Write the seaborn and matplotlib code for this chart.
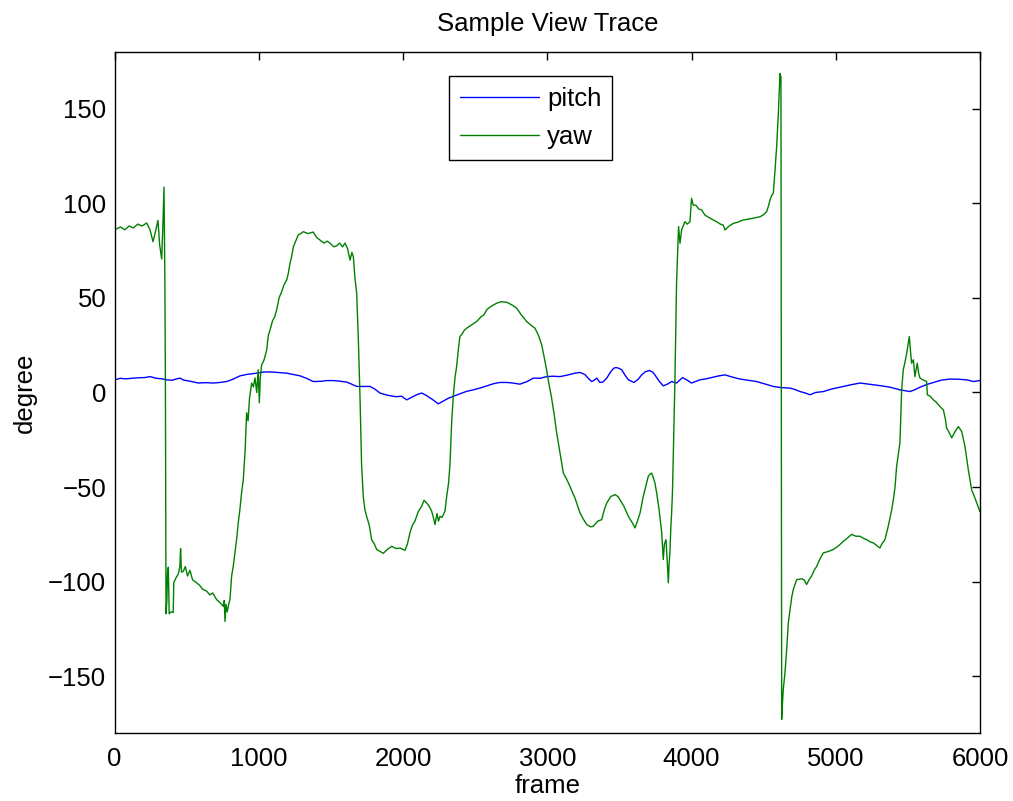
import pandas as pd
import seaborn as sns
import matplotlib.pyplot as plt

# yaw trace (frame, degree)
yaw_frame = [0, 40, 70, 100, 130, 160, 190, 222, 245, 266, 280, 300, 312, 326, 334, 342, 348, 352,
             356, 362, 366, 372, 378, 390, 406, 410, 425, 441, 452, 457, 463, 476, 490, 505, 522,
             540, 568, 590, 610, 638, 660, 680, 707, 730, 753, 760, 765, 772, 780, 788, 800, 811,
             822, 834, 845, 857, 868, 880, 892, 905, 915, 925, 935, 950, 962, 973, 985, 995, 1003,
             1010, 1019, 1035, 1054, 1065, 1077, 1095, 1110, 1123, 1140, 1158, 1175, 1193, 1204,
             1215, 1227, 1239, 1255, 1273, 1290, 1308, 1340, 1377, 1400, 1423, 1450, 1475, 1493,
             1520, 1539, 1560, 1580, 1597, 1615, 1632, 1645, 1655, 1666, 1678, 1689, 1701, 1712,
             1724, 1735, 1747, 1765, 1782, 1800, 1817, 1840, 1863, 1890, 1921, 1950, 1978, 2000,
             2013, 2030, 2048, 2065, 2082, 2105, 2129, 2145, 2163, 2180, 2198, 2210, 2221, 2235,
             2245, 2256, 2270, 2290, 2302, 2315, 2325, 2337, 2348, 2360, 2371, 2385, 2394, 2410,
             2425, 2441, 2460, 2480, 2510, 2540, 2560, 2579, 2600, 2620, 2649, 2680, 2718, 2750,
             2787, 2820, 2857, 2880, 2914, 2940, 2961, 2980, 2995, 3010, 3030, 3050, 3065, 3090,
             3111, 3135, 3157, 3175, 3192, 3210, 3227, 3250, 3273, 3300, 3319, 3350, 3377, 3395,
             3412, 3440, 3469, 3490, 3504, 3530, 3562, 3590, 3608, 3625, 3643, 3665, 3689, 3700,
             3715, 3723, 3735, 3746, 3758, 3775, 3793, 3804, 3812, 3823, 3832, 3839, 3845, 3850,
             3856, 3862, 3868, 3873, 3879, 3885, 3890, 3896, 3904, 3910, 3920, 3931, 3942, 3954,
             3970, 3989, 4000, 4012, 4030, 4050, 4070, 4093, 4120, 4151, 4180, 4200, 4220, 4232,
             4260, 4290, 4320, 4350, 4382, 4420, 4450, 4475, 4500, 4521, 4535, 4544, 4555, 4567,
             4579, 4590, 4602, 4613, 4620, 4625, 4630, 4636, 4648, 4659, 4671, 4683, 4695, 4706,
             4729, 4764, 4780, 4798, 4815, 4833, 4850, 4868, 4890, 4914, 4950, 4983, 5020, 5052,
             5080, 5110, 5140, 5168, 5190, 5214, 5240, 5260, 5285, 5306, 5320, 5341, 5364, 5388,
             5399, 5411, 5422, 5445, 5457, 5468, 5480, 5492, 5510, 5518, 5526, 5538, 5549, 5565,
             5575, 5584, 5610, 5630, 5635, 5655, 5677, 5695, 5711, 5730, 5746, 5760, 5769, 5785,
             5804, 5825, 5850, 5873, 5896, 5919, 5942, 5965, 5985, 6000]
yaw_deg = [86, 87.5, 86, 88, 87, 89, 88, 89.6, 86, 79.7, 84, 91, 78, 70.6, 88, 108.6, 60, 0,
           -117, -110, -96, -92.4, -117, -116, -116.3, -100.5, -98, -96, -92, -82.6, -95, -94.5,
           -92, -97, -94, -99, -100.6, -102, -104, -105, -107, -106, -109.5, -111, -113, -110,
           -121, -112, -116, -113, -109, -97, -92, -84.7, -78, -68.8, -62, -53, -46, -30, -10.7,
           -15, -3, 5, 3, 7.7, 0, 12, -5.4, 8, 14.6, 17, 22.5, 30, 33, 38, 40, 43.6, 50, 53.3, 57,
           59.5, 63, 68, 71.8, 77, 80, 83.3, 84, 85, 84, 84.8, 82, 80.6, 79, 80, 78.9, 77, 77.5,
           79, 77, 79, 76, 70, 74, 71.8, 60.5, 52.5, 29.6, -2, -38, -55, -62, -65.5, -70, -77.8,
           -80, -83, -84, -85, -83, -81.3, -82.5, -82.2, -83, -83.4, -80, -74, -70, -68, -63, -60,
           -57, -58.4, -60, -62.8, -66, -69.8, -64, -68, -65.5, -66, -62.8, -55, -48, -38, -15,
           -2, 8, 13.7, 24, 29.6, 31, 33, 34, 35, 36, 37.5, 40, 41, 43.7, 45, 46, 47.2, 48, 47.7,
           46.5, 44.6, 41, 37.5, 36, 34, 30, 25.2, 18, 12, 5, -3, -13, -21.4, -33, -42.6, -46,
           -49.6, -53, -55.8, -60, -63.7, -67, -69.8, -71, -70.7, -68, -67.2, -62, -58.4, -55,
           -54, -55, -56.7, -60, -65.5, -69, -71.6, -68, -63.7, -55, -47.8, -44.3, -43, -42.6,
           -45, -47.8, -53, -62, -74, -88.3, -80, -77.8, -90, -100.6, -90, -84.8, -72, -63.7,
           -52, -35, -15, 6.7, 30, 57.8, 75, 87.7, 78.9, 85.9, 88, 90.3, 89, 90.3, 102.6, 99, 99,
           97, 96.5, 93.8, 92.5, 91.2, 90, 89, 88.5, 85.9, 88, 89.4, 90, 91, 91.5, 92, 92.5, 92.9,
           94, 95.6, 99, 101.7, 104, 105.3, 117.6, 129.9, 147.5, 168.6, 166.8, -172.8, -165,
           -157, -148, -136.8, -121.8, -114.7, -108, -104, -98.9, -98.5, -99, -101.5, -99, -97,
           -94, -91.9, -88, -84.8, -84, -83, -81, -78.7, -77, -75, -76, -76, -77, -77.8, -79,
           -79.5, -81, -82.2, -80, -77.8, -70.7, -62, -56.7, -50, -39, -26.7, 1.4, 12, 16, 20.8,
           29.6, 22, 15.5, 17.3, 8.4, 15.5, 10, 7.6, 6.5, 5.8, -1.2, -2, -3.9, -5, -6.5, -8,
           -9.1, -14, -18.8, -21, -24, -21, -18, -20.6, -28.5, -40.8, -51.4, -55.8, -60, -63]

# pitch trace
pitch_frame = [0, 40, 80, 129, 170, 210, 245, 290, 330, 360, 400, 430, 453, 480, 520, 580, 630,
               684, 730, 777, 820, 869, 920, 985, 1030, 1077, 1130, 1193, 1240, 1285, 1330, 1377,
               1430, 1470, 1516, 1560, 1609, 1640, 1678, 1720, 1770, 1800, 1840, 1870, 1909, 1950,
               1990, 2025, 2060, 2100, 2129, 2160, 2200, 2244, 2280, 2310, 2348, 2400, 2440, 2487,
               2540, 2580, 2625, 2670, 2718, 2760, 2810, 2860, 2903, 2950, 2995, 3040, 3088, 3140,
               3190, 3227, 3260, 3290, 3308, 3325, 3342, 3365, 3385, 3412, 3440, 3460, 3476, 3496,
               3516, 3540, 3562, 3601, 3630, 3654, 3680, 3707, 3730, 3746, 3775, 3804, 3835, 3862,
               3896, 3938, 3970, 4000, 4058, 4100, 4151, 4190, 4232, 4280, 4336, 4390, 4451, 4510,
               4567, 4620, 4683, 4720, 4752, 4790, 4821, 4860, 4914, 4970, 5029, 5100, 5168, 5210,
               5260, 5320, 5376, 5445, 5514, 5550, 5584, 5630, 5677, 5730, 5792, 5850, 5908, 5954,
               6000]
pitch_deg = [6.7, 7.5, 7.2, 7.6, 7.8, 7.9, 8.4, 7.5, 7.2, 6.7, 6.5, 7.2, 7.6, 6.5, 6.0, 5.0,
             5.2, 5.0, 5.3, 5.8, 7.0, 8.8, 9.6, 10.2, 10.8, 10.9, 10.6, 10.2, 9.5, 8.8, 7.5, 5.8,
             5.9, 6.3, 6.3, 6.0, 5.5, 4.5, 3.2, 3.2, 3.2, 2.0, -0.3, -1.0, -1.7, -2.2, -2.0, -3.9,
             -2.5, -1.0, -0.3, -1.5, -3.5, -6.0, -4.5, -3.2, -2.0, -0.5, 0.6, 1.4, 2.5, 3.5, 4.6,
             5.3, 5.3, 5.0, 4.4, 5.8, 7.6, 7.5, 8.4, 8.6, 8.4, 9.2, 10.2, 10.6, 9.5, 7.0, 5.8,
             6.5, 7.6, 5.3, 5.5, 7.6, 11.0, 12.8, 13.2, 12.8, 12.0, 9.0, 6.7, 5.3, 7.0, 9.3, 11.0,
             11.6, 10.8, 9.3, 6.0, 3.5, 4.5, 5.8, 5.0, 7.9, 6.5, 5.0, 6.7, 7.2, 8.1, 8.8, 9.3,
             8.2, 7.1, 6.5, 5.8, 4.5, 3.2, 2.6, 2.3, 1.5, 0.5, -0.3, -1.2, 0.0, 0.5, 1.8, 2.8,
             4.0, 5.0, 4.6, 4.1, 3.5, 2.8, 1.4, 0.5, 1.5, 2.8, 4.2, 5.3, 6.5, 7.1, 7.0, 6.7, 5.8,
             6.3]

pitch = pd.DataFrame({'frame': pitch_frame, 'degree': pitch_deg})
yaw = pd.DataFrame({'frame': yaw_frame, 'degree': yaw_deg})

sns.set_style('white')
plt.rcParams['font.family'] = ['Liberation Sans', 'DejaVu Sans']
plt.rcParams['font.size'] = 18.5
plt.rcParams['text.color'] = 'black'
plt.rcParams['axes.labelcolor'] = 'black'

fig = plt.figure(figsize=(10.13, 8.01), dpi=100)
ax = fig.add_axes([0.1132, 0.0849, 0.8542, 0.8502])

sns.lineplot(data=pitch, x='frame', y='degree', color=(0, 0, 1), linewidth=1.0,
             estimator=None, label='pitch', ax=ax)
sns.lineplot(data=yaw, x='frame', y='degree', color=(0, 0.5, 0), linewidth=1.0,
             estimator=None, label='yaw', ax=ax)

ax.set_xlim(0, 6000)
ax.set_ylim(-180, 180)
ax.set_xticks([0, 1000, 2000, 3000, 4000, 5000, 6000])
ax.set_yticks([-150, -100, -50, 0, 50, 100, 150])
ax.tick_params(direction='in', length=6, width=1, top=True, right=True,
               labelsize=18.5, colors='black')
ax.tick_params(axis='x', pad=10)
ax.tick_params(axis='y', pad=6)
for s in ax.spines.values():
    s.set_color('black')
    s.set_linewidth(1.0)

ax.set_title('Sample View Trace', fontsize=18.5, pad=15, color='black')
ax.set_xlabel('frame', fontsize=18.5, labelpad=2)
ax.set_ylabel('degree', fontsize=18.5, labelpad=8)

leg = ax.legend(loc='upper center', bbox_to_anchor=(0.4805, 0.9648), borderaxespad=0,
                fancybox=False, framealpha=1, edgecolor='black', handlelength=3.1,
                handletextpad=0.3, borderpad=0.42, labelspacing=0.55, fontsize=18.5)
leg.get_frame().set_linewidth(1.0)
for t in leg.get_texts():
    t.set_color('black')

fig.savefig('out.png', dpi=100)
